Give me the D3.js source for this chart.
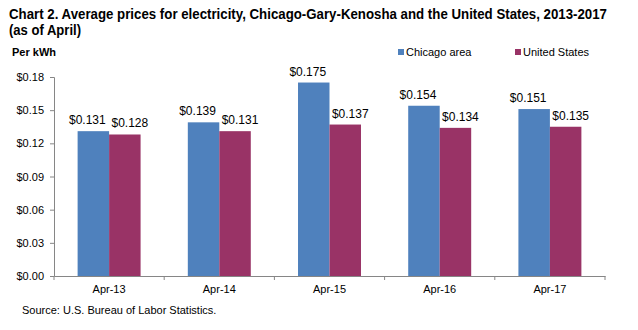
<!DOCTYPE html>
<meta charset="utf-8">
<script src="https://d3js.org/d3.v7.min.js"></script>
<body style="margin:0">
<div id="chart"></div>
<script>
var categories = ["Apr-13", "Apr-14", "Apr-15", "Apr-16", "Apr-17"];
var seriesNames = ["Chicago area", "United States"];
var chicago = [0.131, 0.139, 0.175, 0.154, 0.151];
var us = [0.128, 0.131, 0.137, 0.134, 0.135];
var yTicks = [0, 0.03, 0.06, 0.09, 0.12, 0.15, 0.18];
var colors = ["#4f81bd", "#993366"];

var W = 638, H = 330;
var svg = d3.select("#chart").append("svg").attr("width", W).attr("height", H)
  .style("font-family", "Arial, 'Liberation Sans', sans-serif");
svg.append("rect").attr("width", W).attr("height", H).attr("fill", "#fff");

// title
svg.append("text").attr("x", 9).attr("y", 19).attr("font-size", 15).attr("font-weight", "bold")
  .attr("textLength", 598).attr("lengthAdjust", "spacingAndGlyphs")
  .text("Chart 2. Average prices for electricity, Chicago-Gary-Kenosha  and the United States, 2013-2017");
svg.append("text").attr("x", 9).attr("y", 35).attr("font-size", 15).attr("font-weight", "bold")
  .attr("textLength", 72).attr("lengthAdjust", "spacingAndGlyphs")
  .text("(as of April)");
svg.append("text").attr("x", 12).attr("y", 56).attr("font-size", 11).attr("font-weight", "bold").text("Per kWh");

var x0 = d3.scaleBand().domain(categories).range([54, 605]).paddingInner(0).paddingOuter(0);
var x1 = d3.scaleBand().domain(seriesNames).range([0, x0.bandwidth()]).paddingInner(0).paddingOuter(0.75);
var y = d3.scaleLinear().domain([0, 0.18]).range([276, 77]);

// axes
var yAxis = svg.append("g").attr("transform", "translate(54,0)")
  .call(d3.axisLeft(y).tickValues(yTicks).tickFormat(function (d) { return "$" + d.toFixed(2); }).tickSizeOuter(0).tickSize(4));
yAxis.selectAll("text").attr("font-size", 11).attr("fill", "#000").attr("x", -10);

var xAxis = svg.append("g").attr("transform", "translate(0,276)")
  .call(d3.axisBottom(x0).tickSize(0).tickSizeOuter(0));
xAxis.selectAll("text").attr("font-size", 11).attr("fill", "#000").attr("dy", "1.25em");
// tick marks at band boundaries
var bounds = categories.map(function (c) { return x0(c); }).concat([x0.range()[1]]);
xAxis.selectAll(".bnd").data(bounds).enter().append("line")
  .attr("x1", function (d) { return d; }).attr("x2", function (d) { return d; })
  .attr("y1", 0).attr("y2", 4).attr("stroke", "#868686");
svg.selectAll(".domain, .tick line").attr("stroke", "#868686");

// bars
var data = categories.map(function (c, i) { return { cat: c, vals: [chicago[i], us[i]] }; });
var groups = svg.selectAll(".grp").data(data).enter().append("g")
  .attr("transform", function (d) { return "translate(" + x0(d.cat) + ",0)"; });
groups.selectAll("rect").data(function (d) { return d.vals.map(function (v, j) { return { v: v, s: seriesNames[j], j: j }; }); })
  .enter().append("rect")
  .attr("x", function (d) { return x1(d.s); })
  .attr("width", x1.bandwidth())
  .attr("y", function (d) { return y(d.v); })
  .attr("height", function (d) { return y(0) - y(d.v); })
  .attr("fill", function (d) { return colors[d.j]; });
// value labels, nudged apart like the original
var nudge = [-6, 5];
groups.selectAll("text").data(function (d) { return d.vals.map(function (v, j) { return { v: v, s: seriesNames[j], j: j }; }); })
  .enter().append("text")
  .attr("x", function (d) { return x1(d.s) + x1.bandwidth() / 2 + nudge[d.j]; })
  .attr("y", function (d) { return y(d.v) - 7; })
  .attr("text-anchor", "middle").attr("font-size", 12)
  .text(function (d) { return "$" + d.v.toFixed(3); });

// legend
var legX = [398, 515];
seriesNames.forEach(function (s, i) {
  svg.append("rect").attr("x", legX[i]).attr("y", 49).attr("width", 6).attr("height", 6).attr("fill", colors[i]);
  svg.append("text").attr("x", legX[i] + 8).attr("y", 56).attr("font-size", 11).text(s);
});

svg.append("text").attr("x", 22).attr("y", 314).attr("font-size", 11).text("Source: U.S. Bureau of Labor Statistics.");
</script>
</body>
